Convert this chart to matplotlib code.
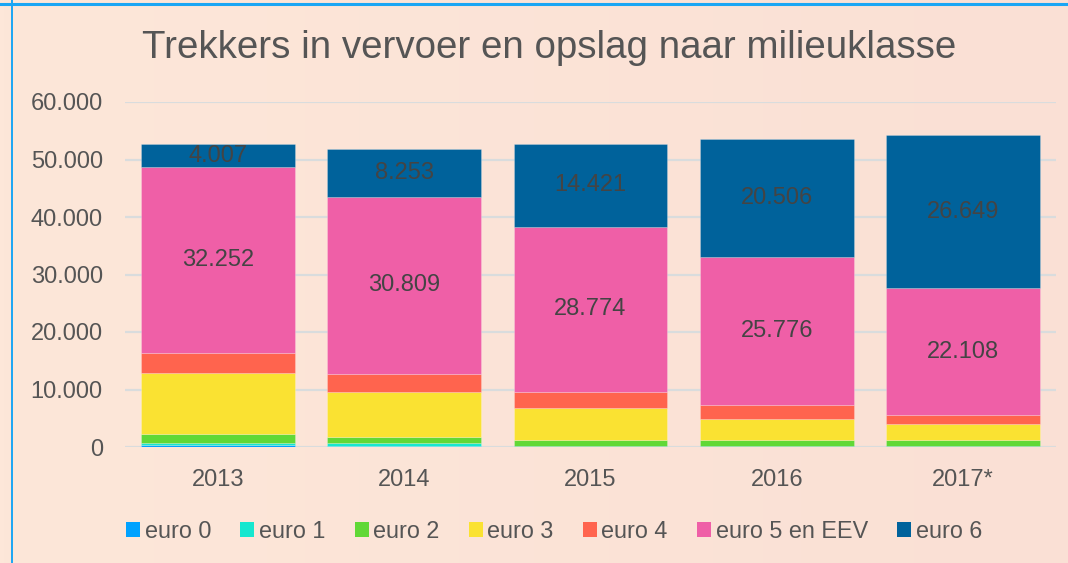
import matplotlib
matplotlib.use("Agg")
import matplotlib.pyplot as plt
import numpy as np
from matplotlib.colors import LinearSegmentedColormap
from matplotlib.lines import Line2D
from matplotlib.patches import Patch

plt.rcParams["font.family"] = ["Liberation Sans", "DejaVu Sans"]

years = ["2013", "2014", "2015", "2016", "2017*"]
series_names = ["euro 0", "euro 1", "euro 2", "euro 3", "euro 4", "euro 5 en EEV", "euro 6"]
euro0 = [300, 250, 150, 150, 150]
euro1 = [450, 450, 100, 100, 100]
euro2 = [1450, 1000, 920, 920, 950]
euro3 = [10650, 7950, 5620, 3770, 2830]
euro4 = [3570, 3050, 2780, 2320, 1450]
euro5 = [32252, 30809, 28774, 25776, 22108]
euro6 = [4007, 8253, 14421, 20506, 26649]
labelled = {5: euro5, 6: euro6}

COLORS = ["#00a2ff", "#16e7cf", "#61d836", "#fae232", "#ff644e", "#ef5fa7", "#00629b"]
BG = "#fce6d8"
TEXT = "#555555"


def fmt(v):
    return f"{v:,}".replace(",", ".")


fig = plt.figure(figsize=(10.68, 5.63), dpi=100)
fig.patch.set_facecolor(BG)

# faint horizontal gradient behind everything
bg = fig.add_axes([0, 0, 1, 1], zorder=-10)
grad = np.linspace(0, 1, 256).reshape(1, -1)
cmap = LinearSegmentedColormap.from_list("bg", ["#fde7d9", "#fae0d5"])
bg.imshow(grad, aspect="auto", cmap=cmap, extent=[0, 1, 0, 1])
bg.axis("off")

ax = fig.add_axes([125 / 1068, 1 - 447 / 563, 931 / 1068, 345 / 563])
ax.set_facecolor("none")

all_series = [euro0, euro1, euro2, euro3, euro4, euro5, euro6]
x = np.arange(len(years))
bottom = np.zeros(len(years))
for i, vals in enumerate(all_series):
    vals = np.array(vals, dtype=float)
    ax.bar(x, vals, 0.825, bottom=bottom, color=COLORS[i],
           edgecolor=(1, 1, 1, 0.25), linewidth=0.6, zorder=3)
    if i in labelled:
        for xi, b, v in zip(x, bottom, vals):
            ax.text(xi, b + v / 2, fmt(int(v)), ha="center", va="center",
                    fontsize=17, color="#444444", zorder=4)
    bottom += vals

ax.set_xlim(-0.5, len(years) - 0.5)
ax.set_ylim(0, 60000)
ax.set_yticks(np.arange(0, 60001, 10000))
ax.set_yticklabels([fmt(v) for v in range(0, 60001, 10000)])
ax.set_xticks(x)
ax.set_xticklabels(years)
ax.tick_params(axis="both", length=0, labelsize=17, colors=TEXT)
ax.tick_params(axis="y", pad=16)
ax.tick_params(axis="x", pad=16)
ax.grid(axis="y", color="#d9dcdd", linewidth=1.6, zorder=0)
ax.set_axisbelow(True)
for s in ax.spines.values():
    s.set_visible(False)

fig.text(549 / 1068, 1 - 48 / 563, "Trekkers in vervoer en opslag naar milieuklasse",
         ha="center", va="center", fontsize=27.7, color=TEXT)

handles = [Patch(facecolor=c, edgecolor="none") for c in COLORS]
fig.legend(handles, series_names, loc="center", bbox_to_anchor=(554 / 1068, 1 - 531 / 563),
           ncol=7, frameon=False, fontsize=16.8, labelcolor=TEXT,
           handlelength=0.6, handleheight=0.6, handletextpad=0.2, columnspacing=1.25)

# light blue frame lines
fig.add_artist(Line2D([0, 1], [1 - 3.5 / 563] * 2, color="#1aa6f4", linewidth=2.2))
fig.add_artist(Line2D([11.8 / 1068] * 2, [0, 1], color="#1aa6f4", linewidth=1.4))

fig.savefig("out.png", dpi=100, facecolor=fig.get_facecolor())
